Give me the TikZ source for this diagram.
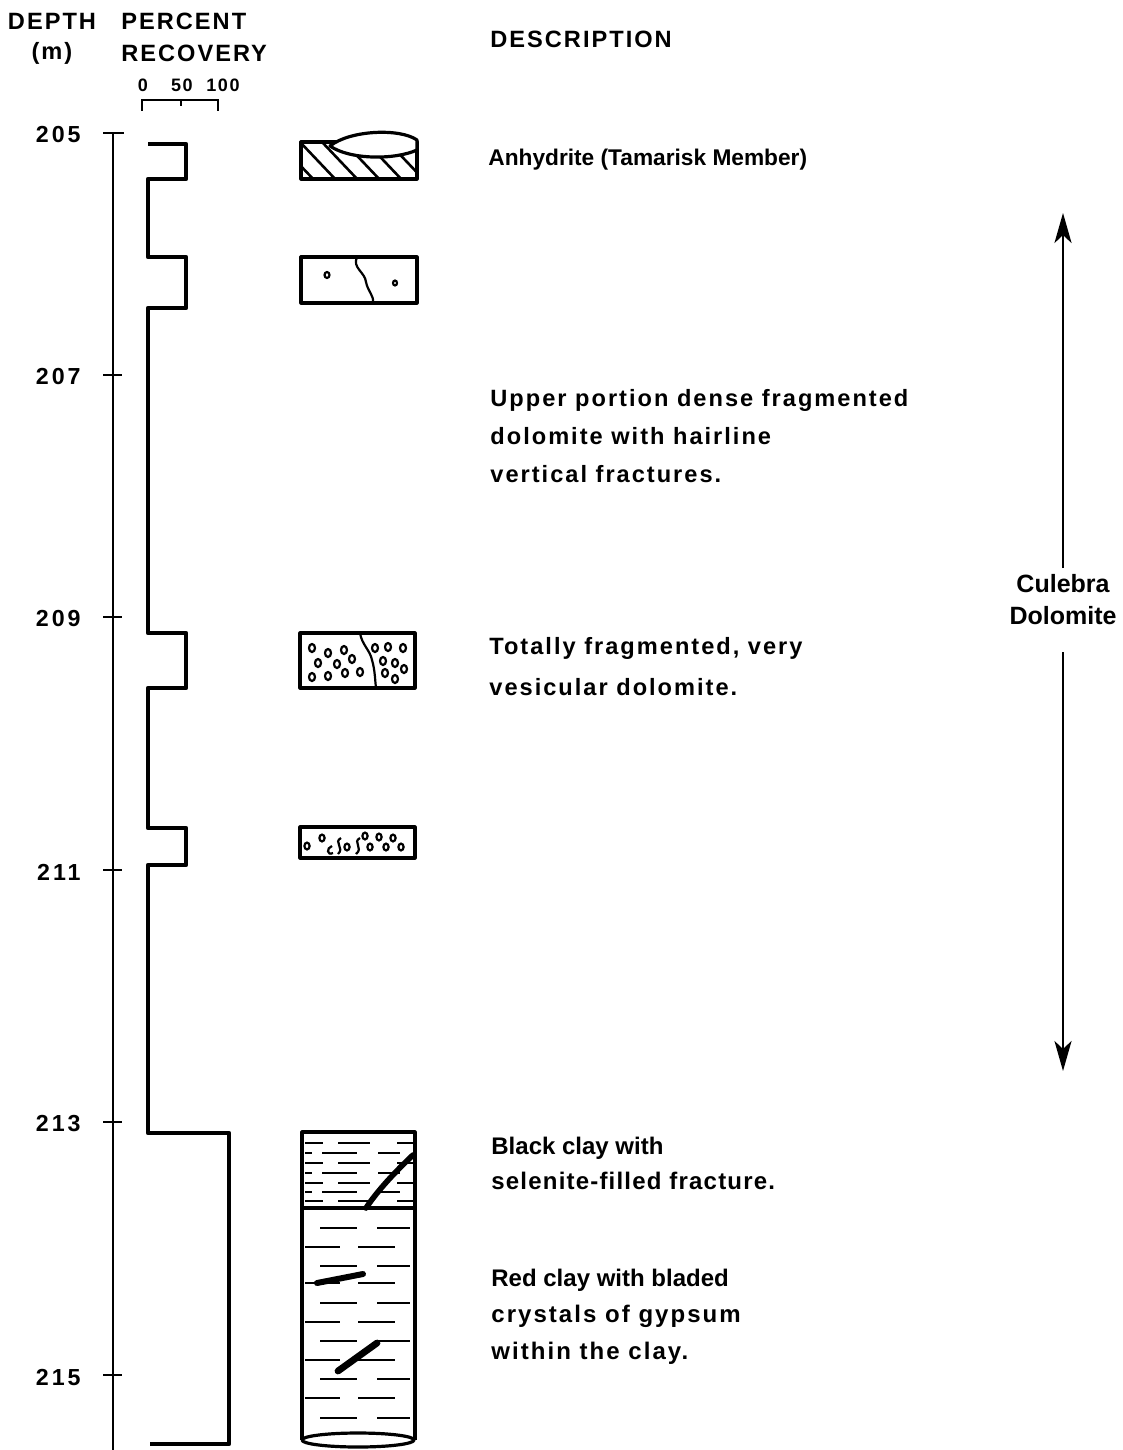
\documentclass[tikz,border=0pt]{standalone}
\usepackage{fontspec}
\setmainfont{Liberation Sans}
\newfontfamily\spaced[LetterSpace=8.5]{Liberation Sans}
\newfontfamily\halfspaced[LetterSpace=5]{Liberation Sans}
\newfontfamily\numfont[LetterSpace=13]{Liberation Sans}
\usetikzlibrary{arrows.meta}
\tikzset{
  axis/.style={line width=0.8pt},
  recov/.style={line width=2.2pt, line join=round},
  core/.style={line width=1.6pt, line join=round},
  hatch/.style={line width=1.3pt},
  grain/.style={line width=1.1pt},
  claydash/.style={line width=1pt},
  blade/.style={line width=2.6pt, line cap=round},
  span/.style={line width=1.4pt, -{Stealth[length=15pt,width=8.5pt,inset=4pt]}},
  hdr/.style={font=\spaced\bfseries\fontsize{11.8}{14}\selectfont, inner sep=0pt},
  num/.style={font=\numfont\bfseries\fontsize{11.6}{14}\selectfont, inner sep=0pt},
  scl/.style={font=\spaced\bfseries\fontsize{9}{10}\selectfont, inner sep=0pt},
  desc/.style={font=\spaced\bfseries\fontsize{11.8}{19}\selectfont, align=left, anchor=base west, inner sep=0pt},
  descb/.style={font=\bfseries\fontsize{12}{17.5}\selectfont, align=left, anchor=base west, inner sep=0pt},
  unit/.style={font=\bfseries\fontsize{12.5}{16}\selectfont, align=center, inner sep=0pt}
}
\begin{document}
\begin{tikzpicture}[x=0.5pt,y=-0.5pt]
  \useasboundingbox (0,0) rectangle (1123,1450);

  % column heads
  \node[hdr,anchor=base] (depth) at (52,30) {DEPTH};
  \node[hdr,anchor=base] (depthunit) at (52,60) {(m)};
  \node[hdr,anchor=base west] (pct) at (121,30) {PERCENT};
  \node[hdr,anchor=base west] (rec) at (121,62) {RECOVERY};
  \node[hdr,anchor=base west] (descr) at (490,48) {DESCRIPTION};

  % recovery scale
  \node[scl,anchor=base] (s0) at (143,92) {0};
  \node[scl,anchor=base] (s50) at (182,92) {50};
  \node[scl,anchor=base] (s100) at (223,92) {100};
  \draw[axis] (142,111) -- (142,100) -- (218,100) -- (218,111);
  \draw[axis] (181,100) -- (181,106);

  % depth axis
  \draw[axis] (113,133) -- (113,1450);
  \draw[axis] (103,133) -- (124,133);
  \foreach \d/\y in {205/133,207/375,209/617,211/870,213/1122,215/1375}{
    \draw[axis] (103,\y) -- (122,\y);
    \node[num,anchor=east] (d\d) at (81,\y+2) {\d};
  }

  % percent recovery
  \draw[recov] (148,144) -- (186,144) -- (186,179) -- (148,179)
    -- (148,257) -- (186,257) -- (186,308) -- (148,308)
    -- (148,633) -- (186,633) -- (186,688) -- (148,688)
    -- (148,828) -- (186,828) -- (186,865) -- (148,865)
    -- (148,1133) -- (229,1133) -- (229,1444) -- (150,1444);

  % anhydrite
  \begin{scope}
    \clip (301,142) rectangle (417,179);
    \foreach \x in {256,278,...,420}
      \draw[hatch] (\x,142) -- (\x+38,182);
  \end{scope}
  \draw[core] (301,142) rectangle (417,179);
  \draw[core,fill=white] (330,146) .. controls (350,130) and (400,128) .. (417,140)
    -- (417,150) .. controls (395,160) and (350,160) .. cycle;

  % dense dolomite
  \draw[core] (301,257) rectangle (417,303);
  \draw[grain] (357,257) .. controls (352,268) and (365,272) .. (366,282)
    .. controls (368,292) and (374,295) .. (373,303);
  \draw[grain] (327,275) ellipse [x radius=2.5, y radius=3];
  \draw[grain] (395,283) ellipse [x radius=2, y radius=2.5];

  % vesicular dolomite
  \draw[core] (300,633) rectangle (415,688);
  \draw[grain] (360,633) .. controls (362,645) and (370,650) .. (372,660)
    .. controls (375,670) and (375,680) .. (376,688);
  \foreach \x/\y in {312/648,328/653,344/650,318/663,337/664,352/659,
      312/677,328/676,345/673,360/672,375/648,388/647,403/648,
      383/661,395/663,404/669,385/673,395/679}
    \draw[grain] (\x,\y) ellipse [x radius=3, y radius=4];

  \draw[core] (300,827) rectangle (415,858);
  \foreach \x/\y in {307/846,322/838,347/847,365/836,370/847,379/837,
      386/847,393/838,401/847}
    \draw[grain] (\x,\y) ellipse [x radius=2.6, y radius=3.4];
  \draw[grain] (332,846) .. controls (326,848) and (327,856) .. (333,853);
  \draw[grain] (341,838) .. controls (333,842) and (345,848) .. (338,854);
  \draw[grain] (360,838) .. controls (352,842) and (364,848) .. (356,854);

  % clay
  \draw[core] (302,1440) -- (302,1132) -- (415,1132) -- (415,1440);
  \draw[core] (302,1208) -- (415,1208);
  \draw[core] (358,1440) ellipse [x radius=56, y radius=7];
  \foreach \y in {1143,1163,1183,1201}
    \draw[claydash] (305,\y) -- (323,\y) (338,\y) -- (370,\y) (397,\y) -- (413,\y);
  \foreach \y in {1153,1173,1192}
    \draw[claydash] (305,\y) -- (312,\y) (322,\y) -- (357,\y) (378,\y) -- (400,\y);
  \foreach \y in {1228,1266,1303,1341,1379,1418}
    \draw[claydash] (320,\y) -- (357,\y) (377,\y) -- (410,\y);
  \foreach \y in {1247,1283,1322,1360,1398}
    \draw[claydash] (305,\y) -- (340,\y) (358,\y) -- (395,\y);
  \draw[blade,line width=2.8pt] (413,1155) .. controls (395,1172) and (378,1190) .. (366,1208);
  \draw[blade,line width=3pt] (317,1283) -- (363,1274);
  \draw[blade,line width=3.4pt] (338,1371) -- (377,1343);

  % descriptions
  \node[descb,font=\bfseries\fontsize{11.35}{17.5}\selectfont] (anhy) at (488,165)
    {Anhydrite (Tamarisk Member)};
  \node[desc] (upper) at (490,482) {Upper portion dense fragmented\\
    dolomite with hairline\\vertical fractures.};
  \node[desc,font=\spaced\bfseries\fontsize{11.8}{20.5}\selectfont] (vesic) at (489,695)
    {Totally fragmented, very\\vesicular dolomite.};
  \node[descb] (blackclay) at (491,1189) {Black clay with\\
    {\halfspaced selenite-filled fracture.}};
  \node[descb,font=\bfseries\fontsize{12}{18.25}\selectfont] (redclay) at (491,1359)
    {Red clay with bladed\\{\spaced crystals of gypsum}\\{\spaced within the clay.}};

  % formation span
  \node[unit] (culebra) at (1063,600) {Culebra\\Dolomite};
  \coordinate (spantop) at (1063,213);
  \coordinate (spanbot) at (1063,1071);
  \coordinate (shafttop) at (1063,568);
  \coordinate (shaftbot) at (1063,652);
  \draw[span] (shafttop) -- (spantop);
  \draw[span] (shaftbot) -- (spanbot);
\end{tikzpicture}
\end{document}
